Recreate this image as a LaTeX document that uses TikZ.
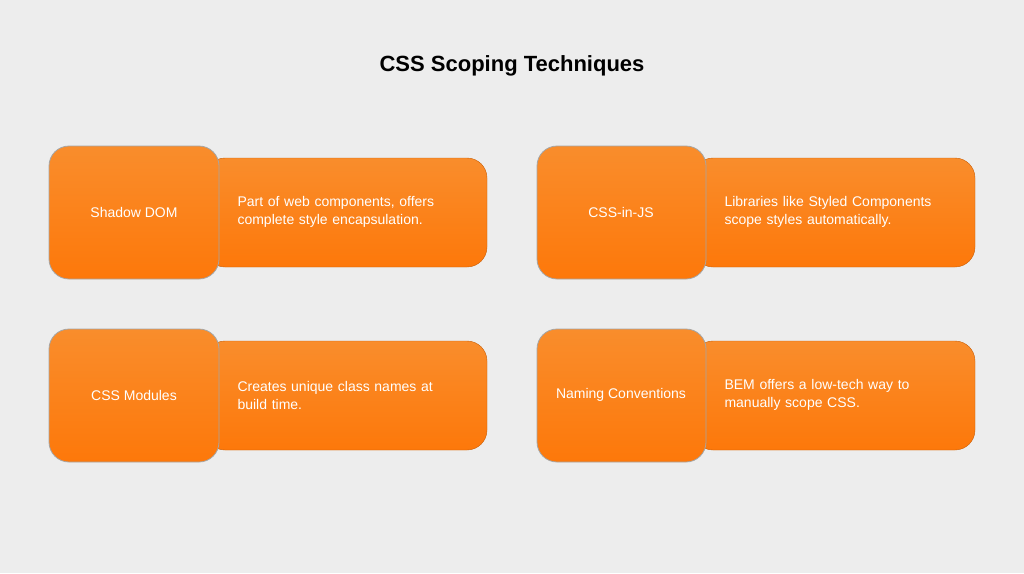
\documentclass[tikz,border=0pt]{standalone}
\usepackage{fontspec}
\setmainfont{Liberation Sans}
\begin{document}
\begin{tikzpicture}[x=1pt,y=-1pt,
  wide/.style={rounded corners=20pt,top color=orange1,bottom color=orange2,draw=orange2!80!black,line width=0.4pt},
  sq/.style={rounded corners=20pt,top color=orange1,bottom color=orange2,draw=gray!70,line width=0.8pt},
  lbl/.style={text=white,font=\fontsize{14}{17}\selectfont},
  desc/.style={text=white,font=\fontsize{14}{18}\selectfont,align=left,anchor=west,text width=250pt}]
\definecolor{bg}{HTML}{EDEDED}
\definecolor{orange1}{HTML}{F98D2C}
\definecolor{orange2}{HTML}{FD780A}
\fill[bg] (0,0) rectangle (1024,573);
\useasboundingbox (0,0) rectangle (1024,573);
\node[font=\bfseries\fontsize{22}{26}\selectfont] (title) at (512,66) {CSS Scoping Techniques};
% row 1 col 1
\draw[wide] (205,158) rectangle (487,267);
\draw[sq] (49,146) rectangle (219,279);
\node[lbl] (a) at (134,212) {Shadow DOM};
\node[desc] (ad) at (234,212) {Part of web components, offers\\complete style encapsulation.};
% row 1 col 2
\draw[wide] (693,158) rectangle (975,267);
\draw[sq] (537,146) rectangle (706,279);
\node[lbl] (b) at (621,212) {CSS-in-JS};
\node[desc] (bd) at (721,212) {Libraries like Styled Components\\scope styles automatically.};
% row 2 col 1
\draw[wide] (205,341) rectangle (487,450);
\draw[sq] (49,329) rectangle (219,462);
\node[lbl] (c) at (134,395) {CSS Modules};
\node[desc] (cd) at (234,395) {Creates unique class names at\\build time.};
% row 2 col 2
\draw[wide] (693,341) rectangle (975,450);
\draw[sq] (537,329) rectangle (706,462);
\node[lbl] (d) at (621,395) {Naming Conventions};
\node[desc] (dd) at (721,395) {BEM offers a low-tech way to\\manually scope CSS.};
\end{tikzpicture}
\end{document}
